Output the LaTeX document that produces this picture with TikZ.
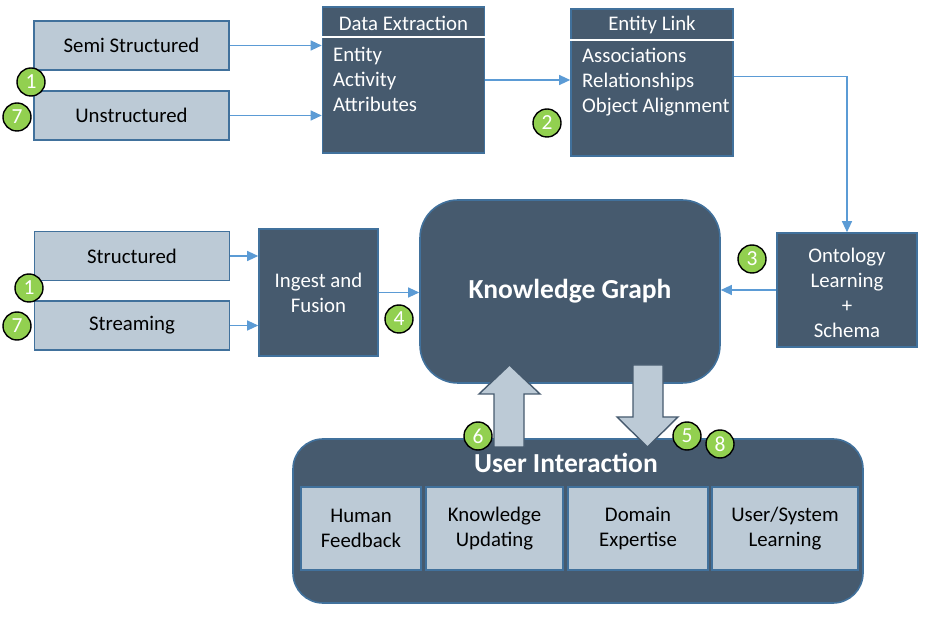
\documentclass[tikz,border=0pt]{standalone}
\usepackage{fontspec}
\setmainfont{Carlito}
\usetikzlibrary{arrows.meta,positioning,calc}
\definecolor{slate}{HTML}{465A6E}
\definecolor{edgeblue}{HTML}{41719C}
\definecolor{paleblue}{HTML}{BCCAD6}
\definecolor{linkblue}{HTML}{5B9BD5}
\definecolor{badgegreen}{HTML}{92D050}
\tikzset{
  src/.style={draw=edgeblue, line width=1.6pt, fill=paleblue, inner sep=0pt,
    minimum width=195pt, minimum height=49pt, font=\fontsize{20.8}{25}\selectfont},
  tile/.style={draw=edgeblue, line width=1.6pt, fill=paleblue, inner sep=0pt,
    minimum height=83pt, align=center, font=\fontsize{20.8}{25}\selectfont},
  panel/.style={draw=edgeblue, line width=1.6pt, fill=slate, text=white, inner sep=0pt,
    align=center, font=\fontsize{20.8}{25}\selectfont},
  paneltext/.style={text=white, inner sep=0pt, font=\fontsize{20.8}{25}\selectfont},
  bigtitle/.style={text=white, inner sep=0pt, font=\bfseries\fontsize{27.5}{30}\selectfont},
  badge/.style={circle, draw=black, line width=1.4pt, fill=badgegreen, text=white,
    inner sep=0pt, minimum size=28pt, font=\fontsize{21.5}{21.5}\selectfont},
  flow/.style={draw=linkblue, line width=1.2pt, -{Triangle[length=11pt,width=10pt]}},
  blockarrow/.style={draw=slate, line width=1.4pt, fill=paleblue, line join=miter},
}
\begin{document}
\begin{tikzpicture}[x=1pt,y=-1pt]
  \useasboundingbox (0,0) rectangle (935,617);

  % sources
  \node[src] (semi) at (131.5,45.5) {Semi Structured};
  \node[src] (unstr) at (131.5,115.5) {Unstructured};
  \node[src] (struct) at (132,256) {Structured};
  \node[src] (stream) at (132,325.5) {Streaming};

  % data extraction
  \node[panel, minimum width=162pt, minimum height=146pt] (dext) at (403.5,80) {};
  \node[paneltext] (dexttitle) at (403.5,23) {Data Extraction};
  \draw[white, line width=1.6pt] (dext.west |- 0,37) -- (dext.east |- 0,37);
  \node[paneltext, align=left, anchor=west] (dextitems) at (333,79) {Entity\\Activity\\Attributes};

  % entity link
  \node[panel, minimum width=162pt, minimum height=147pt] (elink) at (652,82.5) {};
  \node[paneltext] (elinktitle) at (652,25) {Entity Link};
  \draw[white, line width=1.6pt] (elink.west |- 0,40) -- (elink.east |- 0,40);
  \node[paneltext, align=left, anchor=west] (elinkitems) at (582,82) {Associations\\Relationships\\Object Alignment};

  \node[panel, minimum width=140pt, minimum height=114pt] (onto) at (847,290) {};
  \node[paneltext, align=center] (ontotext) at (847,293) {Ontology\\Learning\\+\\Schema};
  \node[panel, minimum width=119pt, minimum height=127pt] (ingest) at (318.5,292.5) {Ingest and\\Fusion};
  \node[panel, rounded corners=38pt, minimum width=300pt, minimum height=183pt,
    font=\bfseries\fontsize{27.5}{30}\selectfont] (kg) at (570,291.5) {Knowledge Graph};

  % user interaction
  \node[panel, rounded corners=30pt, minimum width=570pt, minimum height=164pt] (ui) at (578,521) {};
  \node[tile, minimum width=120pt] (human) at (361,528.5) {Human\\Feedback};
  \node[tile, minimum width=137pt] (kupd) at (494.5,528.5) {Knowledge\\Updating};
  \node[tile, minimum width=140pt] (domain) at (638,528.5) {Domain\\Expertise};
  \node[tile, minimum width=146pt] (usl) at (785,528.5) {User/System\\Learning};

  \draw[flow] (semi.east) -- (semi.east -| dext.west);
  \draw[flow] (unstr.east) -- (unstr.east -| dext.west);
  \draw[flow] (dext.east) -- (dext.east -| elink.west);
  \draw[flow] ([yshift=6pt]elink.east) -| (onto.north);
  \draw[flow] (onto.west) -- (onto.west -| kg.east);
  \draw[flow] (struct.east) -- (struct.east -| ingest.west);
  \draw[flow] (stream.east) -- (stream.east -| ingest.west);
  \draw[flow] (ingest.east) -- (ingest.east -| kg.west);

  \draw[blockarrow] (494,447) -- (494,394) -- (479,394) -- (509.5,365) -- (540,394) -- (524,394) -- (524,447) -- cycle;
  \draw[blockarrow] (633,365) -- (663,365) -- (663,417) -- (678,417) -- (647.5,447) -- (617,417) -- (633,417) -- cycle;
  \node[bigtitle] (uititle) at (566,463) {User Interaction};

  \node[badge] (b1a) at (31,82) {1};
  \node[badge] (b7a) at (17,117) {7};
  \node[badge] (b2) at (547,123) {2};
  \node[badge] (b3) at (752,259) {3};
  \node[badge] (b1b) at (29,288) {1};
  \node[badge] (b7b) at (17,326) {7};
  \node[badge] (b4) at (399,319) {4};
  \node[badge] (b6) at (478,436) {6};
  \node[badge] (b5) at (687,436) {5};
  \node[badge] (b8) at (720,444) {8};
\end{tikzpicture}
\end{document}
